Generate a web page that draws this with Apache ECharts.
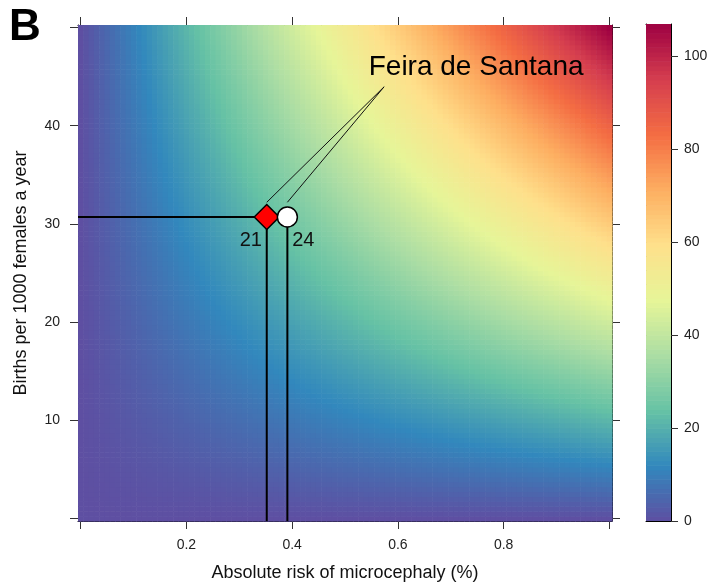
<!DOCTYPE html>
<html><head><meta charset="utf-8">
<script src="https://cdn.jsdelivr.net/npm/echarts@6/dist/echarts.min.js"></script>
<style>html,body{margin:0;padding:0;background:#fff}#chart{width:709px;height:584px}</style>
</head><body><div id="chart"></div>
<script>
// ---- data ----
const riskPercent = [0,0.01,0.02,0.03,0.04,0.05,0.06,0.07,0.08,0.09,
 0.1,0.11,0.12,0.13,0.14,0.15,0.16,0.17,0.18,0.19,
 0.2,0.21,0.22,0.23,0.24,0.25,0.26,0.27,0.28,0.29,
 0.3,0.31,0.32,0.33,0.34,0.35,0.36,0.37,0.38,0.39,
 0.4,0.41,0.42,0.43,0.44,0.45,0.46,0.47,0.48,0.49,
 0.5,0.51,0.52,0.53,0.54,0.55,0.56,0.57,0.58,0.59,
 0.6,0.61,0.62,0.63,0.64,0.65,0.66,0.67,0.68,0.69,
 0.7,0.71,0.72,0.73,0.74,0.75,0.76,0.77,0.78,0.79,
 0.8,0.81,0.82,0.83,0.84,0.85,0.86,0.87,0.88,0.89,
 0.9,0.91,0.92,0.93,0.94,0.95,0.96,0.97,0.98,0.99,1];
const birthsPer1000 = [0,0.5,1,1.5,2,2.5,3,3.5,4,4.5,5,5.5,6,6.5,7,7.5,8,8.5,9,9.5,
 10,10.5,11,11.5,12,12.5,13,13.5,14,14.5,15,15.5,16,16.5,17,17.5,18,18.5,19,19.5,
 20,20.5,21,21.5,22,22.5,23,23.5,24,24.5,25,25.5,26,26.5,27,27.5,28,28.5,29,29.5,
 30,30.5,31,31.5,32,32.5,33,33.5,34,34.5,35,35.5,36,36.5,37,37.5,38,38.5,39,39.5,
 40,40.5,41,41.5,42,42.5,43,43.5,44,44.5,45,45.5,46,46.5,47,47.5,48,48.5,49,49.5,50];
const womenAged15to49 = 214000;       // expected cases = women * risk% * births/1000
const casesMax = 107;
const xTicks = [0,0.2,0.4,0.6,0.8,1];
const xTickLabels = [0.2,0.4,0.6,0.8];
const yTicks = [0,10,20,30,40,50];
const yTickLabels = [10,20,30,40];
const colorbarTicks = [0,20,40,60,80,100];
const spectral = ['#5E4FA2','#3288BD','#66C2A5','#ABDDA4','#E6F598','#FEE08B','#FDAE61','#F46D43','#D53E4F','#9E0142'];
const cityName = 'Feira de Santana';
const cityBirths = 30.7;
const cityRisk = [0.352, 0.391];
const cityCases = ['21', '24'];
const labelAnchor = [0.574, 43.96];
const leaderEndY = 32.2;

// ---- build grids ----
const dx = riskPercent[1] - riskPercent[0];
const dy = birthsPer1000[1] - birthsPer1000[0];
const xMin = riskPercent[0] - dx/2, xMax = riskPercent[riskPercent.length-1] + dx/2;
const yMin = birthsPer1000[0] - dy/2, yMax = birthsPer1000[birthsPer1000.length-1] + dy/2;
const cells = [];
riskPercent.forEach(r => birthsPer1000.forEach(b => {
  cells.push([r, b, womenAged15to49 * (r/100) * (b/1000)]);
}));
const nBands = 107;
const bands = [];
for (let i = 0; i < nBands; i++) {
  const c = (i + 0.5) * casesMax / nBands;
  bands.push([0.5, c, c]);
}
const bandH = casesMax / nBands;

const FONT = '"Liberation Sans", Arial, sans-serif';
const black = '#000';

function axisCommon(extra) {
  return Object.assign({
    type: 'value',
    axisLine: {show: true, onZero: false, lineStyle: {color: black, width: 1}},
    splitLine: {show: false},
    axisLabel: {show: false},
    axisTick: {show: false}
  }, extra);
}

const chart = echarts.init(document.getElementById('chart'), null, {renderer: 'canvas'});
chart.setOption({
  animation: false,
  backgroundColor: '#fff',
  textStyle: {fontFamily: FONT},
  grid: [
    {left: 78, top: 25, width: 534, height: 496, outerBoundsMode: 'none', containLabel: false},
    {left: 646, top: 24, width: 25, height: 497, outerBoundsMode: 'none', containLabel: false}
  ],
  xAxis: [
    axisCommon({gridIndex: 0, position: 'bottom', min: xMin, max: xMax,
      axisTick: {show: true, customValues: xTicks, length: 8, lineStyle: {color: '#333'}},
      axisLabel: {show: true, customValues: xTickLabels, margin: 17, fontSize: 14, color: '#222', fontFamily: FONT,
        formatter: v => v.toFixed(1)},
      name: 'Absolute risk of microcephaly (%)', nameLocation: 'middle', nameGap: 43,
      nameTextStyle: {fontSize: 18, color: '#111', fontFamily: FONT}}),
    axisCommon({gridIndex: 0, position: 'top', min: xMin, max: xMax,
      axisTick: {show: true, customValues: xTicks, length: 8, lineStyle: {color: '#333'}}}),
    axisCommon({gridIndex: 1, position: 'bottom', min: 0, max: 1}),
    axisCommon({gridIndex: 1, position: 'top', min: 0, max: 1})
  ],
  yAxis: [
    axisCommon({gridIndex: 0, position: 'left', min: yMin, max: yMax,
      axisTick: {show: true, customValues: yTicks, length: 8, lineStyle: {color: '#333'}},
      axisLabel: {show: true, customValues: yTickLabels, margin: 18, fontSize: 14, color: '#222', fontFamily: FONT},
      name: 'Births per 1000 females a year', nameLocation: 'middle', nameGap: 48, nameRotate: 90,
      nameTextStyle: {fontSize: 18, color: '#111', fontFamily: FONT}}),
    axisCommon({gridIndex: 0, position: 'right', min: yMin, max: yMax,
      axisTick: {show: true, customValues: yTicks, length: 8, lineStyle: {color: '#333'}}}),
    axisCommon({gridIndex: 1, position: 'right', min: 0, max: casesMax,
      axisTick: {show: true, customValues: colorbarTicks, length: 7, lineStyle: {color: '#333'}},
      axisLabel: {show: true, customValues: colorbarTicks, margin: 13, fontSize: 14, color: '#222', fontFamily: FONT}}),
    axisCommon({gridIndex: 1, position: 'left', min: 0, max: casesMax})
  ],
  visualMap: {
    type: 'continuous', show: false, min: 0, max: casesMax, dimension: 2,
    seriesIndex: [0, 1], inRange: {color: spectral}
  },
  series: [
    {
      type: 'custom', xAxisIndex: 0, yAxisIndex: 0, data: cells, clip: true, silent: true, z: 1,
      renderItem: (params, api) => {
        const x = api.value(0), y = api.value(1);
        const p0 = api.coord([x - dx/2, y + dy/2]);
        const p1 = api.coord([x + dx/2, y - dy/2]);
        return {type: 'rect', shape: {x: p0[0], y: p0[1], width: p1[0]-p0[0]+0.6, height: p1[1]-p0[1]+0.6},
          style: {fill: api.visual('color')}};
      }
    },
    {
      type: 'custom', xAxisIndex: 2, yAxisIndex: 2, data: bands, clip: true, silent: true, z: 1,
      renderItem: (params, api) => {
        const c = api.value(1);
        const p0 = api.coord([0, c + bandH/2]);
        const p1 = api.coord([1, c - bandH/2]);
        return {type: 'rect', shape: {x: p0[0], y: p0[1], width: p1[0]-p0[0], height: p1[1]-p0[1]+0.6},
          style: {fill: api.visual('color')}};
      }
    },
    {
      type: 'line', xAxisIndex: 0, yAxisIndex: 0, symbol: 'none', silent: true, z: 5,
      data: [[xMin, cityBirths], [cityRisk[0], cityBirths], [cityRisk[0], yMin]],
      lineStyle: {color: black, width: 2}
    },
    {
      type: 'line', xAxisIndex: 0, yAxisIndex: 0, symbol: 'none', silent: true, z: 5,
      data: [[cityRisk[1], cityBirths], [cityRisk[1], yMin]],
      lineStyle: {color: black, width: 2}
    },
    {
      type: 'line', xAxisIndex: 0, yAxisIndex: 0, symbol: 'none', silent: true, z: 5,
      data: [labelAnchor, [cityRisk[0], leaderEndY]],
      lineStyle: {color: '#111', width: 1}
    },
    {
      type: 'line', xAxisIndex: 0, yAxisIndex: 0, symbol: 'none', silent: true, z: 5,
      data: [labelAnchor, [cityRisk[1], leaderEndY]],
      lineStyle: {color: '#111', width: 1}
    },
    {
      type: 'scatter', xAxisIndex: 0, yAxisIndex: 0, silent: true, z: 6,
      data: [[cityRisk[0], cityBirths]], symbol: 'diamond', symbolSize: 25,
      itemStyle: {color: '#FF0000', borderColor: black, borderWidth: 1.5, opacity: 1},
      label: {show: true, position: 'inside', offset: [-16, 23], formatter: cityCases[0],
        fontSize: 20, color: '#111', fontFamily: FONT}
    },
    {
      type: 'scatter', xAxisIndex: 0, yAxisIndex: 0, silent: true, z: 6,
      data: [[cityRisk[1], cityBirths]], symbol: 'circle', symbolSize: 20,
      itemStyle: {color: '#FFFFFF', borderColor: black, borderWidth: 1.5, opacity: 1},
      label: {show: true, position: 'inside', offset: [16, 23], formatter: cityCases[1],
        fontSize: 20, color: '#111', fontFamily: FONT}
    },
    {
      type: 'scatter', xAxisIndex: 0, yAxisIndex: 0, silent: true, z: 7,
      data: [labelAnchor], symbol: 'circle', symbolSize: 1,
      itemStyle: {color: 'rgba(0,0,0,0)'},
      label: {show: true, position: 'inside', offset: [92, -19], formatter: cityName,
        fontSize: 28, color: '#000', opacity: 1, textBorderWidth: 0, fontFamily: FONT}
    }
  ],
  graphic: [
    {type: 'text', x: 9, y: 28, style: {text: 'B', font: 'bold 44px ' + FONT, fill: '#000', verticalAlign: 'middle'}}
  ]
});
</script></body></html>
